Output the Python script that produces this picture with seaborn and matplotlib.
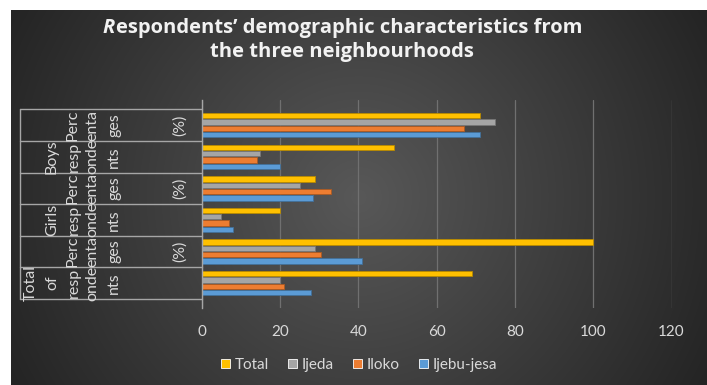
import numpy as np
import pandas as pd
import matplotlib
matplotlib.use("Agg")
import matplotlib.pyplot as plt
import seaborn as sns

# ---- data -------------------------------------------------------------
categories = ["Boys (%)", "Boys respondents", "Girls (%)",
              "Girls respondents", "Total (%)", "Total of respondents"]
series = ["Total", "Ijeda", "Iloko", "Ijebu-jesa"]
total = [71, 49, 29, 20, 100, 69]
ijeda = [75, 15, 25, 5, 29, 20]
iloko = [67, 14, 33, 7, 30.5, 21]
ijebu_jesa = [71, 20, 28.5, 8, 41, 28]
x_ticks = [0, 20, 40, 60, 80, 100, 120]
palette = ["#FFC000", "#A5A5A5", "#ED7D31", "#5B9BD5"]

df = pd.DataFrame({
    "category": categories * 4,
    "series": np.repeat(series, len(categories)),
    "value": total + ijeda + iloko + ijebu_jesa,
})

# ---- style ------------------------------------------------------------
sns.set_theme(style="white")
plt.rcParams["font.family"] = ["Lato", "DejaVu Sans"]
TXT = "#d9d9d9"

W, H = 707, 385
fig = plt.figure(figsize=(W / 100, H / 100), dpi=100)
fig.patch.set_facecolor("white")

# radial dark gradient of the chart area
bx0, by0 = 11, 10
bg = fig.add_axes([bx0 / W, 0, (W - bx0) / W, (H - by0) / H])
gx, gy = np.meshgrid(np.linspace(bx0, W, 400), np.linspace(by0, H, 220))
cx, cy = (bx0 + W) / 2, (by0 + H) / 2
r = np.hypot(gx - cx, gy - cy) / np.hypot(W - cx, H - cy)
v = np.clip(88 - 52 * r, 30, 255) / 255
bg.imshow(np.dstack([v, v, v]), aspect="auto", extent=[0, 1, 0, 1],
          interpolation="bilinear")
bg.set_axis_off()

# plot area
L, R, T, B = 201.7, 671.5, 100, 308.3
ax = fig.add_axes([L / W, 1 - B / H, (R - L) / W, (B - T) / H])
ax.set_facecolor("none")

sns.barplot(data=df, x="value", y="category", hue="series",
            order=categories, hue_order=series, palette=palette,
            orient="h", width=0.8, gap=0.15, saturation=1,
            linewidth=0.6, ax=ax)

for p in ax.patches:
    fc = np.array(p.get_facecolor()[:3])
    p.set_edgecolor(tuple(fc * 0.72))

ax.set_xlim(0, 120)
ax.set_xticks(x_ticks)
ax.set_xlabel("")
ax.set_ylabel("")
ax.tick_params(axis="x", length=0, pad=12, labelsize=11, colors=TXT)
ax.tick_params(axis="y", length=0, labelleft=False)
ax.xaxis.grid(True, color="#707070", lw=0.9)
ax.yaxis.grid(False)
ax.set_axisbelow(True)
for s in ["top", "right", "bottom"]:
    ax.spines[s].set_visible(False)
ax.spines["left"].set_color("#a6a6a6")
ax.spines["left"].set_linewidth(1)

# category label table
def axfrac(px):
    return (px - L) / (R - L)

yt = ax.get_yaxis_transform()
x_edge = axfrac(20)
for i in range(len(categories) + 1):
    ax.plot([x_edge, 0], [i - 0.5, i - 0.5], color="#a6a6a6", lw=1,
            transform=yt, clip_on=False)
ax.plot([x_edge, x_edge], [-0.5, len(categories) - 0.5], color="#a6a6a6",
        lw=1, transform=yt, clip_on=False)

pct_lines = [("Perc", 73), ("enta", 92), ("ges", 114), ("(%)", 180)]
resp_lines = [("resp", 74), ("onde", 92), ("nts", 114)]
group_words = {1: [("Boys", 52)], 3: [("Girls", 52)],
               5: [("Total", 31), ("of", 52)]}

for row in range(len(categories)):
    lines = pct_lines if row % 2 == 0 else resp_lines + group_words[row]
    for word, px in lines:
        ax.text(axfrac(px), row, word, rotation=90, ha="center",
                va="center", color=TXT, fontsize=11.5, transform=yt,
                clip_on=False)

# legend
sns.move_legend(ax, "center", bbox_to_anchor=(359 / W, 1 - 365 / H),
                bbox_transform=fig.transFigure, ncol=4, frameon=False,
                title=None, handlelength=0.55, handleheight=0.55,
                handletextpad=0.3, columnspacing=1.3, fontsize=11,
                labelcolor=TXT)

# title: italic leading capital followed by the rest of the first line
title_kw = dict(color="#f2f2f2", fontsize=14.5, fontweight="bold",
                family=["Open Sans", "DejaVu Sans"])
tcx = 342
fig.canvas.draw()
rend = fig.canvas.get_renderer()
t_r = fig.text(0, 0, "R", style="italic", **title_kw)
t_rest = fig.text(0, 0, "espondents\u2019 demographic characteristics from",
                  **title_kw)
w_r = t_r.get_window_extent(rend).width
w_rest = t_rest.get_window_extent(rend).width
x_start = tcx - (w_r + w_rest) / 2
base1 = 1 - 33 / H
t_r.set_position((x_start / W, base1))
t_r.set_va("baseline")
t_rest.set_position(((x_start + w_r + 1) / W, base1))
t_rest.set_va("baseline")
fig.text(tcx / W, 1 - 57 / H, "the three neighbourhoods", ha="center",
         va="baseline", **title_kw)

fig.savefig("out.png", dpi=100, facecolor=fig.get_facecolor())
